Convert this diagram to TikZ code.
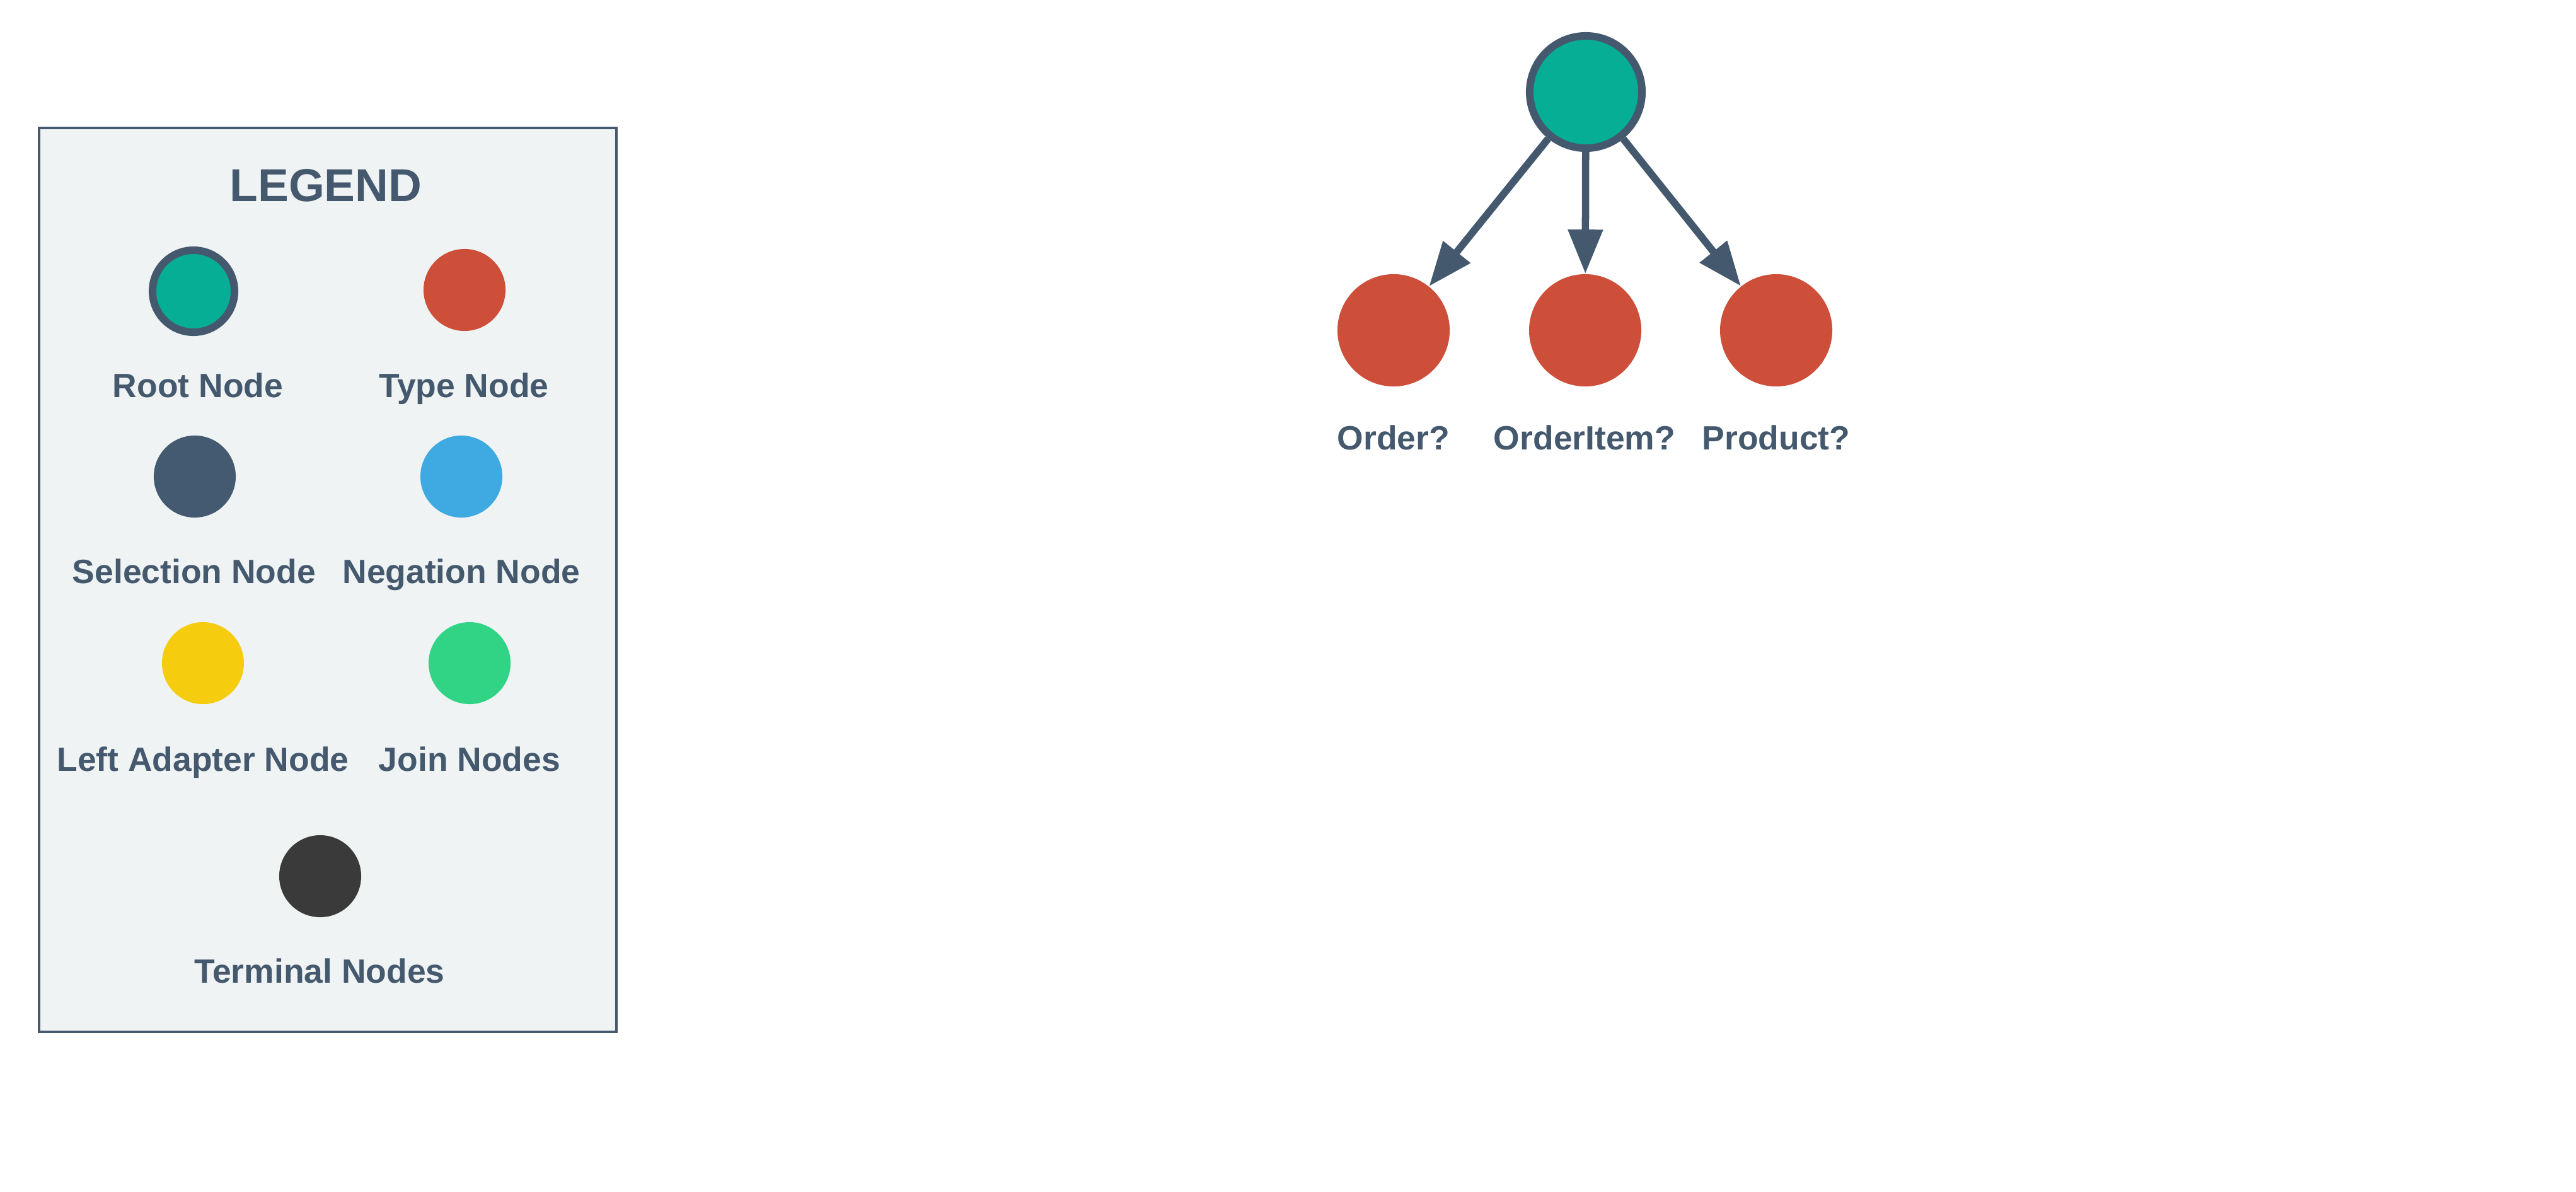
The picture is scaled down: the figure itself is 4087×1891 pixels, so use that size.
\documentclass[tikz,border=0pt]{standalone}
\usepackage{fontspec}
\setmainfont{Liberation Sans}
\usetikzlibrary{calc,arrows.meta,positioning}

\definecolor{slate}{HTML}{45596E}
\definecolor{rootgreen}{HTML}{06AE96}
\definecolor{typered}{HTML}{CD4F3A}
\definecolor{selslate}{HTML}{435A70}
\definecolor{negblue}{HTML}{3FA9E1}
\definecolor{adapteryellow}{HTML}{F5CD0E}
\definecolor{joingreen}{HTML}{31D385}
\definecolor{termgray}{HTML}{3A3A3A}
\definecolor{legendbg}{HTML}{EFF3F4}

\begin{document}
\begin{tikzpicture}[x=0.01cm,y=-0.01cm,
  legendbox/.style={rectangle,draw=slate,line width=0.04cm,fill=legendbg,minimum width=9.16cm,minimum height=14.34cm,inner sep=0pt},
  keydot/.style={circle,inner sep=0pt,minimum size=1.3cm},
  treedot/.style={circle,inner sep=0pt,minimum size=1.78cm},
  rootring/.style={draw=slate,line width=0.12cm,fill=rootgreen},
  lbl/.style={anchor=base,text=slate,font=\fontsize{15.2}{18}\selectfont\bfseries,inner sep=0pt},
  titlelbl/.style={anchor=base,text=slate,font=\fontsize{20.8}{24}\selectfont\bfseries,inner sep=0pt},
  edge/.style={draw=slate,line width=0.115cm,-{Triangle[length=0.7cm,width=0.53cm]}}]
\useasboundingbox (0,0) rectangle (4087,1891);

\coordinate (k0) at (307,462);
\coordinate (k1) at (737,460);
\coordinate (k2) at (309,756);
\coordinate (k3) at (732,756);
\coordinate (k4) at (322,1052);
\coordinate (k5) at (745,1052);
\coordinate (k6) at (508,1390);

\node[legendbox] (legend) at (520,920) {};
\node[titlelbl] (legendtitle) at (517,319) {LEGEND};

\node[keydot,rootring] (keyroot) at (k0) {};
\node[keydot,fill=typered] (keytype) at (k1) {};
\node[keydot,fill=selslate] (keysel) at (k2) {};
\node[keydot,fill=negblue] (keyneg) at (k3) {};
\node[keydot,fill=adapteryellow] (keyadapt) at (k4) {};
\node[keydot,fill=joingreen] (keyjoin) at (k5) {};
\node[keydot,fill=termgray] (keyterm) at (k6) {};

\node[lbl] (keyrootlbl) at (314,630) {Root Node};
\node[lbl] (keytypelbl) at (736,630) {Type Node};
\node[lbl] (keysellbl) at (308,925) {Selection Node};
\node[lbl] (keyneglbl) at (732,925) {Negation Node};
\node[lbl] (keyadaptlbl) at (322,1223) {Left Adapter Node};
\node[lbl] (keyjoinlbl) at (745,1223) {Join Nodes};
\node[lbl] (keytermlbl) at (507,1559) {Terminal Nodes};

\coordinate (r0) at (2516,146);
\coordinate (t0) at (2211,524);
\coordinate (t1) at (2515,524);
\coordinate (t2) at (2818,524);

\node[treedot,rootring] (root) at (r0) {};
\node[treedot,fill=typered] (order) at (t0) {};
\node[treedot,fill=typered] (orderitem) at (t1) {};
\node[treedot,fill=typered] (product) at (t2) {};

\node[lbl] (orderlbl) at (2211,713) {Order?};
\node[lbl] (orderitemlbl) at (2514,713) {OrderItem?};
\node[lbl] (productlbl) at (2818,713) {Product?};

\draw[edge] (root) -- (order);
\draw[edge] (root) -- (orderitem);
\draw[edge] (root) -- (product);

\end{tikzpicture}
\end{document}
